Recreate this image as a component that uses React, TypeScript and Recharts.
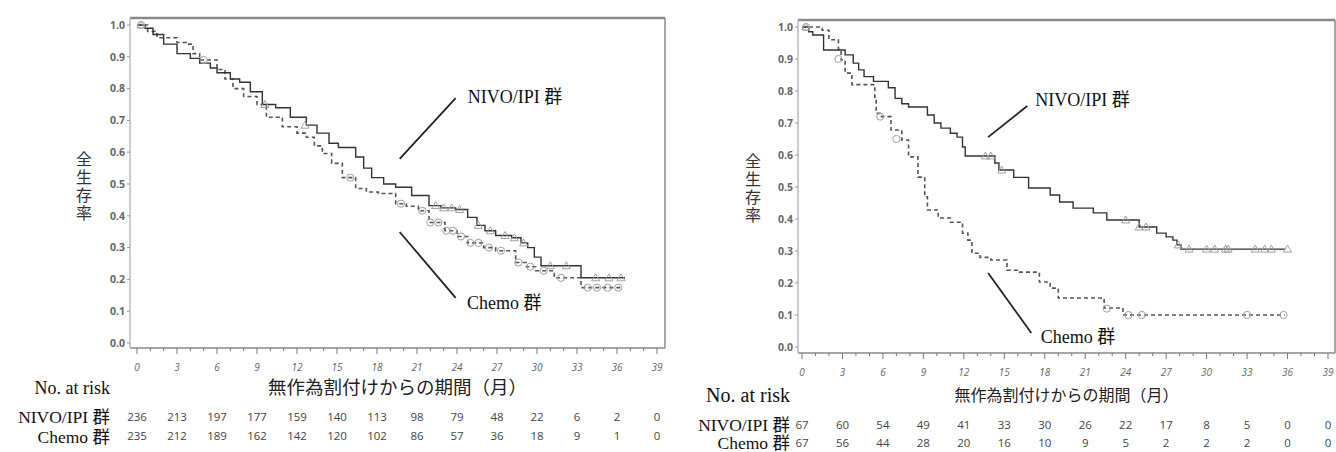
import React from "react";
import {
    ComposedChart,
    Line,
    Scatter,
    XAxis,
    YAxis,
    CartesianGrid,
    ReferenceLine,
    ReferenceDot,
} from "recharts";

// tick labels
const monthTicks = [0, 3, 6, 9, 12, 15, 18, 21, 24, 27, 30, 33, 36, 39];
const minorTicks = Array.from({ length: 40 }, (_, i) => i);
const survTicks = [0, 0.1, 0.2, 0.3, 0.4, 0.5, 0.6, 0.7, 0.8, 0.9, 1.0];

// left panel (all patients)
const allNivoTime = [0, 0.6, 1.2, 2.0, 3.0, 4.0, 4.7, 5.5, 6.0, 7.0, 7.7, 8.5, 9.4, 10.4, 11.5, 12.7, 13.5, 14.4, 15.1, 16.4, 17.0, 17.6, 18.5, 19.4, 20.6, 21.9, 22.8, 23.9, 24.8, 25.5, 26.1, 26.9, 28.1, 28.8, 29.3, 29.8, 30.3, 33.3, 36.6];
const allNivoSurv = [1.0, 0.99, 0.97, 0.94, 0.91, 0.895, 0.88, 0.865, 0.85, 0.83, 0.82, 0.79, 0.75, 0.74, 0.71, 0.685, 0.66, 0.628, 0.615, 0.585, 0.55, 0.52, 0.5, 0.49, 0.464, 0.432, 0.425, 0.42, 0.395, 0.37, 0.353, 0.338, 0.331, 0.315, 0.3, 0.27, 0.243, 0.205, 0.205];
const allChemoTime = [0, 0.8, 1.5, 3.0, 3.7, 4.2, 4.7, 6.0, 6.6, 7.2, 8.0, 9.0, 9.7, 10.9, 12.0, 12.7, 13.3, 13.9, 14.6, 15.4, 16.4, 17.2, 18.1, 19.4, 20.2, 21.1, 21.9, 23.1, 24.0, 24.8, 26.0, 26.9, 28.4, 29.2, 29.9, 31.3, 33.3, 36.3];
const allChemoSurv = [1.0, 0.98, 0.96, 0.945, 0.94, 0.91, 0.89, 0.86, 0.83, 0.8, 0.775, 0.75, 0.71, 0.68, 0.66, 0.647, 0.62, 0.596, 0.565, 0.52, 0.486, 0.475, 0.47, 0.438, 0.43, 0.416, 0.379, 0.353, 0.335, 0.315, 0.3, 0.29, 0.253, 0.24, 0.227, 0.205, 0.174, 0.174];
const allNivoCensorTime = [0.3, 9.6, 12.6, 22.4, 23.0, 23.6, 24.2, 25.6, 26.5, 27.6, 28.3, 29.0, 31.0, 32.2, 34.4, 35.4, 36.3];
const allNivoCensorSurv = [1.0, 0.75, 0.685, 0.432, 0.425, 0.425, 0.42, 0.37, 0.353, 0.338, 0.331, 0.315, 0.243, 0.243, 0.205, 0.205, 0.205];
const allChemoCensorTime = [0.3, 5.0, 16.0, 19.8, 21.4, 22.0, 22.6, 23.2, 23.7, 24.3, 25.0, 25.6, 26.4, 27.3, 28.6, 29.5, 30.5, 31.8, 33.8, 34.5, 35.3, 36.1];
const allChemoCensorSurv = [1.0, 0.89, 0.52, 0.438, 0.416, 0.379, 0.379, 0.353, 0.353, 0.335, 0.315, 0.315, 0.3, 0.29, 0.253, 0.24, 0.227, 0.205, 0.174, 0.174, 0.174, 0.174];
const allRiskNivo = [236, 213, 197, 177, 159, 140, 113, 98, 79, 48, 22, 6, 2, 0];
const allRiskChemo = [235, 212, 189, 162, 142, 120, 102, 86, 57, 36, 18, 9, 1, 0];

// right panel (subgroup)
const subNivoTime = [0, 0.5, 0.8, 1.6, 3.2, 3.8, 4.2, 4.6, 5.3, 6.4, 6.9, 7.4, 7.9, 9.3, 9.8, 10.3, 11.0, 11.5, 11.9, 12.1, 14.3, 14.6, 15.7, 16.8, 18.4, 19.1, 20.1, 21.6, 22.6, 25.0, 26.3, 27.0, 27.5, 27.8, 28.1, 35.8];
const subNivoSurv = [1.0, 0.985, 0.975, 0.928, 0.913, 0.887, 0.866, 0.845, 0.83, 0.81, 0.777, 0.76, 0.75, 0.725, 0.7, 0.684, 0.668, 0.656, 0.625, 0.597, 0.575, 0.553, 0.53, 0.497, 0.475, 0.453, 0.434, 0.419, 0.397, 0.375, 0.356, 0.344, 0.334, 0.319, 0.306, 0.306];
const subChemoTime = [0, 1.5, 2.0, 2.7, 2.9, 3.2, 3.7, 5.4, 5.5, 5.9, 6.6, 7.4, 7.9, 8.6, 9.1, 9.3, 10.1, 11.0, 11.9, 12.3, 12.6, 13.2, 14.0, 15.2, 16.0, 17.6, 18.4, 19.0, 22.4, 23.8, 35.8];
const subChemoSurv = [1.0, 0.99, 0.96, 0.93, 0.897, 0.856, 0.82, 0.78, 0.73, 0.72, 0.678, 0.647, 0.594, 0.531, 0.469, 0.428, 0.403, 0.39, 0.356, 0.334, 0.293, 0.28, 0.272, 0.24, 0.234, 0.203, 0.184, 0.153, 0.122, 0.1, 0.1];
const subNivoCensorTime = [0.3, 13.6, 14.0, 14.8, 24.0, 25.0, 25.5, 27.9, 28.7, 30.0, 30.6, 31.4, 31.6, 33.6, 34.3, 34.8, 36.0];
const subNivoCensorSurv = [1.0, 0.597, 0.597, 0.553, 0.397, 0.375, 0.375, 0.319, 0.306, 0.306, 0.306, 0.306, 0.306, 0.306, 0.306, 0.306, 0.306];
const subChemoCensorTime = [0.3, 2.7, 5.8, 7.0, 22.6, 24.2, 25.2, 33.0, 35.7];
const subChemoCensorSurv = [1.0, 0.9, 0.72, 0.65, 0.12, 0.1, 0.1, 0.1, 0.1];
const subRiskNivo = [67, 60, 54, 49, 41, 33, 30, 26, 22, 17, 8, 5, 0, 0];
const subRiskChemo = [67, 56, 44, 28, 20, 16, 10, 9, 5, 2, 2, 2, 0, 0];

const toPoints = (t: number[], s: number[]) => t.map((v, i) => ({ t: v, s: s[i] }));

const serif = "'Liberation Serif', 'Noto Sans CJK JP', serif";
const sans = "'Open Sans', 'DejaVu Sans', sans-serif";
const frame = "#8a8a8a";

// month ticks (minor every month, labelled every 3) + the number-at-risk rows under them
const monthTick = (riskNivo: number[], riskChemo: number[], dyNivo: number, dyChemo: number) => (props: any) => {
    const { x, y, payload } = props;
    const major = payload.value % 3 === 0;
    const i = payload.value / 3;
    return (
        <g>
            <line x1={x} x2={x} y1={y} y2={y + (major ? 6 : 3)} stroke="#777" strokeWidth={1} />
            {major && (
                <>
                    <text x={x} y={y + 23} textAnchor="middle" fontSize={10} fill="#666" fontFamily={sans} fontStyle="italic">
                        {payload.value}
                    </text>
                    <text x={x} y={y + dyNivo} textAnchor="middle" fontSize={11.5} fill="#444" fontFamily={sans}>
                        {riskNivo[i]}
                    </text>
                    <text x={x} y={y + dyChemo} textAnchor="middle" fontSize={11.5} fill="#444" fontFamily={sans}>
                        {riskChemo[i]}
                    </text>
                </>
            )}
        </g>
    );
};

const Triangle = (props: any) => {
    const { cx, cy } = props;
    return <path d={`M${cx},${cy - 4} L${cx + 4},${cy + 3} L${cx - 4},${cy + 3} Z`} fill="none" stroke="#a0a0a0" strokeWidth={1} />;
};

const Circle = (props: any) => {
    const { cx, cy } = props;
    return <circle cx={cx} cy={cy} r={3.6} fill="none" stroke="#a0a0a0" strokeWidth={1} />;
};

type Pt = { t: number; s: number };

type PanelProps = {
    left: number;
    width: number;
    margin: { top: number; right: number; bottom: number; left: number };
    xPad: { left: number; right: number };
    yPad: { top: number; bottom: number };
    axisHeight: number;
    titleOffset: number;
    titleSize: number;
    riskDy: [number, number];
    nivo: Pt[];
    chemo: Pt[];
    nivoCensor: Pt[];
    chemoCensor: Pt[];
    riskNivo: number[];
    riskChemo: number[];
    nivoLine: [number, number, number, number];
    chemoLine: [number, number, number, number];
    nivoText: [number, number];
    chemoText: [number, number];
};

const Panel: React.FC<PanelProps> = (p) => {
    const Tick = monthTick(p.riskNivo, p.riskChemo, p.riskDy[0], p.riskDy[1]);
    return (
        <div style={{ position: "absolute", left: p.left, top: 0 }}>
            <ComposedChart width={p.width} height={452} margin={p.margin}>
                {/* frame: top edge and right edge of the plot area */}
                <CartesianGrid
                    vertical={false}
                    stroke={frame}
                    strokeWidth={2.5}
                    horizontalCoordinatesGenerator={({ offset }: any) => [offset.top]}
                />
                <CartesianGrid
                    horizontal={false}
                    stroke={frame}
                    strokeWidth={1.5}
                    verticalCoordinatesGenerator={({ offset }: any) => [offset.left + offset.width]}
                />
                <XAxis
                    dataKey="t"
                    type="number"
                    domain={[0, 39]}
                    ticks={minorTicks}
                    interval={0}
                    padding={p.xPad}
                    height={p.axisHeight}
                    tickSize={0}
                    tickMargin={0}
                    tickLine={false}
                    tick={<Tick />}
                    axisLine={{ stroke: frame, strokeWidth: 1.5 }}
                    label={{
                        value: "無作為割付けからの期間（月）",
                        position: "insideBottom",
                        offset: p.titleOffset,
                        fontSize: p.titleSize,
                        fill: "#222",
                        fontFamily: "'Noto Sans CJK JP', sans-serif",
                    }}
                />
                <YAxis
                    type="number"
                    domain={[0, 1]}
                    ticks={survTicks}
                    interval={0}
                    padding={p.yPad}
                    width={40}
                    tickSize={3}
                    tickMargin={2}
                    tickLine={{ stroke: "#999" }}
                    axisLine={{ stroke: "#bbb", strokeWidth: 1.5 }}
                    tickFormatter={(v: number) => v.toFixed(1)}
                    tick={{ fontSize: 10.5, fill: "#666", fontWeight: 700, fontFamily: sans }}
                />
                <Line
                    data={p.chemo}
                    dataKey="s"
                    type="stepAfter"
                    stroke="#555"
                    strokeWidth={1.6}
                    strokeDasharray="4 3"
                    dot={false}
                    isAnimationActive={false}
                />
                <Line
                    data={p.nivo}
                    dataKey="s"
                    type="stepAfter"
                    stroke="#333"
                    strokeWidth={1.4}
                    dot={false}
                    isAnimationActive={false}
                />
                <Scatter data={p.nivoCensor} dataKey="s" shape={<Triangle />} isAnimationActive={false} />
                <Scatter data={p.chemoCensor} dataKey="s" shape={<Circle />} isAnimationActive={false} />
                <ReferenceLine
                    segment={[
                        { x: p.nivoLine[0], y: p.nivoLine[1] },
                        { x: p.nivoLine[2], y: p.nivoLine[3] },
                    ]}
                    stroke="#222"
                    strokeWidth={1.8}
                />
                <ReferenceLine
                    segment={[
                        { x: p.chemoLine[0], y: p.chemoLine[1] },
                        { x: p.chemoLine[2], y: p.chemoLine[3] },
                    ]}
                    stroke="#222"
                    strokeWidth={1.8}
                />
                <ReferenceDot
                    x={p.nivoText[0]}
                    y={p.nivoText[1]}
                    r={0}
                    fill="none"
                    stroke="none"
                    label={{ value: "NIVO/IPI 群", position: "right", offset: 0, fontSize: 18, fill: "#111", fontFamily: serif }}
                />
                <ReferenceDot
                    x={p.chemoText[0]}
                    y={p.chemoText[1]}
                    r={0}
                    fill="none"
                    stroke="none"
                    label={{ value: "Chemo 群", position: "right", offset: 0, fontSize: 18, fill: "#111", fontFamily: serif }}
                />
            </ComposedChart>
        </div>
    );
};

const textStyle: React.CSSProperties = {
    position: "absolute",
    fontFamily: serif,
    color: "#111",
    whiteSpace: "nowrap",
};

const YLabel: React.FC<{ left: number; top: number }> = ({ left, top }) => (
    <div
        style={{
            position: "absolute",
            left,
            top,
            writingMode: "vertical-rl",
            textOrientation: "upright",
            fontSize: 16,
            letterSpacing: 2,
            lineHeight: "18px",
            color: "#333",
            fontFamily: "'Noto Sans CJK JP', sans-serif",
        }}
    >
        全生存率
    </div>
);

const RiskLabels: React.FC<{ right: number; tops: [number, number, number]; head: number; row: number }> = ({ right, tops, head, row }) => (
    <>
        <div style={{ ...textStyle, left: right - 140, width: 140, textAlign: "right", top: tops[0] - 12, fontSize: head, lineHeight: "24px" }}>
            No. at risk
        </div>
        <div style={{ ...textStyle, left: right - 140, width: 140, textAlign: "right", top: tops[1] - 9, fontSize: row, lineHeight: "18px" }}>
            NIVO/IPI 群
        </div>
        <div style={{ ...textStyle, left: right - 140, width: 140, textAlign: "right", top: tops[2] - 9, fontSize: row, lineHeight: "18px" }}>
            Chemo 群
        </div>
    </>
);

export default function App() {
    return (
        <div style={{ position: "absolute", left: 0, top: 0, width: 1336, height: 452, background: "#fff", overflow: "hidden" }}>
            <Panel
                left={0}
                width={680}
                margin={{ top: 18, right: 15, bottom: 0, left: 90 }}
                xPad={{ left: 7, right: 8 }}
                yPad={{ top: 7, bottom: 5 }}
                axisHeight={104}
                titleOffset={58}
                titleSize={18.5}
                riskDy={[73, 92]}
                nivo={toPoints(allNivoTime, allNivoSurv)}
                chemo={toPoints(allChemoTime, allChemoSurv)}
                nivoCensor={toPoints(allNivoCensorTime, allNivoCensorSurv)}
                chemoCensor={toPoints(allChemoCensorTime, allChemoCensorSurv)}
                riskNivo={allRiskNivo}
                riskChemo={allRiskChemo}
                nivoLine={[19.7, 0.579, 23.9, 0.77]}
                chemoLine={[19.7, 0.349, 23.9, 0.142]}
                nivoText={[24.8, 0.774]}
                chemoText={[24.75, 0.126]}
            />
            <Panel
                left={680}
                width={656}
                margin={{ top: 20, right: 1, bottom: 0, left: 78 }}
                xPad={{ left: 4, right: 7 }}
                yPad={{ top: 7, bottom: 6 }}
                axisHeight={99}
                titleOffset={51}
                titleSize={16}
                riskDy={[76, 94]}
                nivo={toPoints(subNivoTime, subNivoSurv)}
                chemo={toPoints(subChemoTime, subChemoSurv)}
                nivoCensor={toPoints(subNivoCensorTime, subNivoCensorSurv)}
                chemoCensor={toPoints(subChemoCensorTime, subChemoCensorSurv)}
                riskNivo={subRiskNivo}
                riskChemo={subRiskChemo}
                nivoLine={[13.8, 0.656, 16.7, 0.753]}
                chemoLine={[13.8, 0.231, 17.0, 0.044]}
                nivoText={[17.3, 0.772]}
                chemoText={[17.7, 0.031]}
            />
            <YLabel left={75} top={151} />
            <YLabel left={744} top={153} />
            <RiskLabels right={110} tops={[388, 417, 437]} head={18} row={17.5} />
            <RiskLabels right={790} tops={[395, 425, 443]} head={20} row={17.5} />
        </div>
    );
}
